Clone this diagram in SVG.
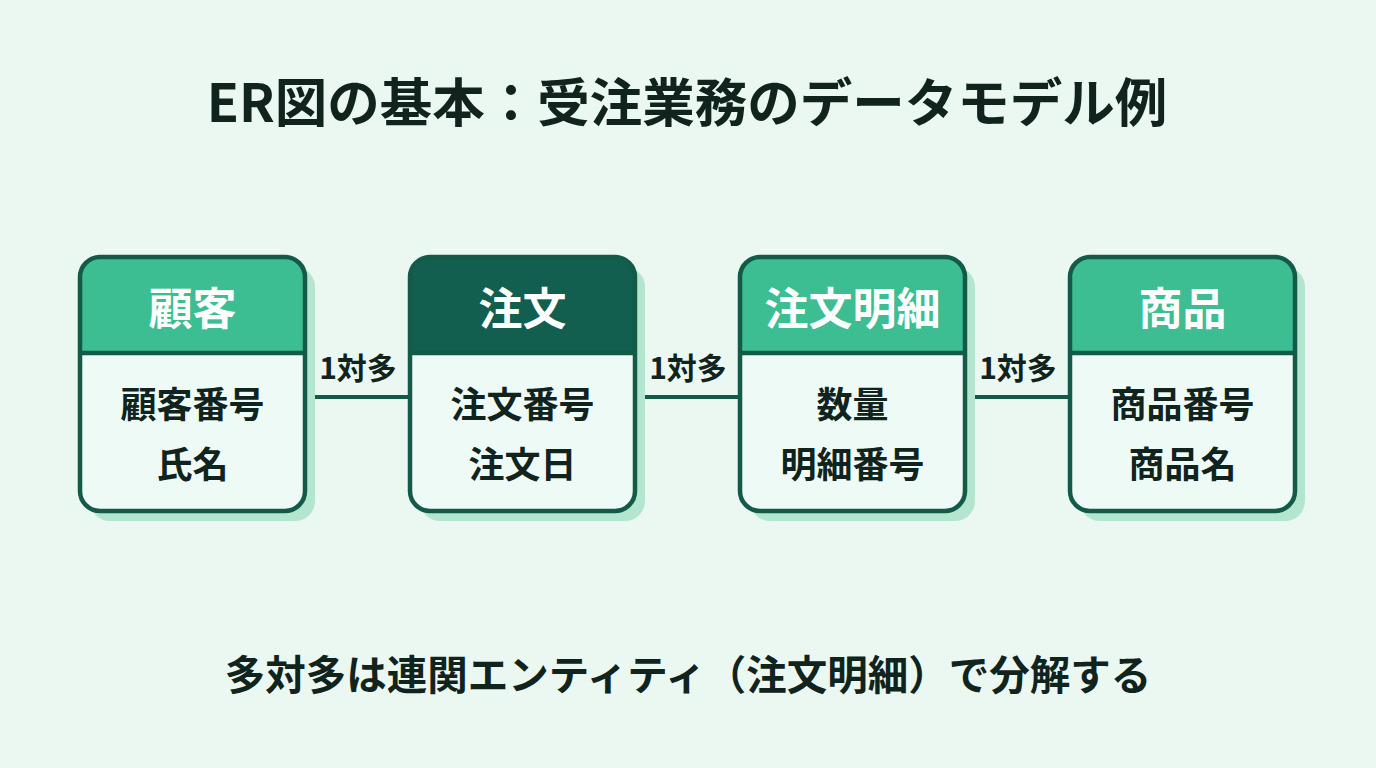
<svg xmlns="http://www.w3.org/2000/svg" width="1376" height="768" viewBox="0 0 1376 768">
  <defs>
    <style>
      text { font-family: "Noto Sans CJK JP", "Noto Sans", sans-serif; font-weight: bold; text-anchor: middle; }
      .title { font-size: 52.5px; fill: #10231c; }
      .foot { font-size: 40.5px; fill: #10231c; }
      .head { font-size: 44px; fill: #ffffff; }
      .attr { font-size: 36px; fill: #10231c; }
      .lbl { font-size: 30px; fill: #10231c; }
      .shadow { fill: #b4e6cf; }
      .body { fill: #eefaf5; }
      .frame { fill: none; stroke: #145a48; stroke-width: 4.5; }
      .hlight { fill: #3dbd92; }
      .hdark { fill: #125e4f; }
      .div { stroke: #145a48; stroke-width: 4.5; }
      .conn { stroke: #145a48; stroke-width: 4; fill: none; }
    </style>
  </defs>
  <rect x="0" y="0" width="1376" height="768" fill="#ebf7f1"/>
  <text class="title" x="687" y="122">ER図の基本：受注業務のデータモデル例</text>

  <g id="connectors">
    <line class="conn" x1="305" y1="397" x2="410" y2="397"/>
    <line class="conn" x1="635" y1="397" x2="740" y2="397"/>
    <line class="conn" x1="965" y1="397" x2="1070" y2="397"/>
    <text class="lbl" x="358" y="379">1対多</text>
    <text class="lbl" x="688" y="379">1対多</text>
    <text class="lbl" x="1018" y="379">1対多</text>
  </g>

  <g id="customer">
    <rect class="shadow" x="90" y="267" width="225" height="254" rx="20"/>
    <rect class="body" x="80" y="257" width="225" height="254" rx="20"/>
    <path class="hlight" d="M80,353 V277 A20,20 0 0 1 100,257 H285 A20,20 0 0 1 305,277 V353 Z"/>
    <line class="div" x1="80" y1="353" x2="305" y2="353"/>
    <rect class="frame" x="80" y="257" width="225" height="254" rx="20"/>
    <text class="head" x="192.5" y="325">顧客</text>
    <text class="attr" x="192.5" y="418">顧客番号</text>
    <text class="attr" x="192.5" y="478">氏名</text>
  </g>

  <g id="order">
    <rect class="shadow" x="420" y="267" width="225" height="254" rx="20"/>
    <rect class="body" x="410" y="257" width="225" height="254" rx="20"/>
    <path class="hdark" d="M410,353 V277 A20,20 0 0 1 430,257 H615 A20,20 0 0 1 635,277 V353 Z"/>
    <line class="div" x1="410" y1="353" x2="635" y2="353"/>
    <rect class="frame" x="410" y="257" width="225" height="254" rx="20"/>
    <text class="head" x="522.5" y="325">注文</text>
    <text class="attr" x="522.5" y="418">注文番号</text>
    <text class="attr" x="522.5" y="478">注文日</text>
  </g>

  <g id="orderdetail">
    <rect class="shadow" x="750" y="267" width="225" height="254" rx="20"/>
    <rect class="body" x="740" y="257" width="225" height="254" rx="20"/>
    <path class="hlight" d="M740,353 V277 A20,20 0 0 1 760,257 H945 A20,20 0 0 1 965,277 V353 Z"/>
    <line class="div" x1="740" y1="353" x2="965" y2="353"/>
    <rect class="frame" x="740" y="257" width="225" height="254" rx="20"/>
    <text class="head" x="852.5" y="325">注文明細</text>
    <text class="attr" x="852.5" y="418">数量</text>
    <text class="attr" x="852.5" y="478">明細番号</text>
  </g>

  <g id="product">
    <rect class="shadow" x="1080" y="267" width="225" height="254" rx="20"/>
    <rect class="body" x="1070" y="257" width="225" height="254" rx="20"/>
    <path class="hlight" d="M1070,353 V277 A20,20 0 0 1 1090,257 H1275 A20,20 0 0 1 1295,277 V353 Z"/>
    <line class="div" x1="1070" y1="353" x2="1295" y2="353"/>
    <rect class="frame" x="1070" y="257" width="225" height="254" rx="20"/>
    <text class="head" x="1182.5" y="325">商品</text>
    <text class="attr" x="1182.5" y="418">商品番号</text>
    <text class="attr" x="1182.5" y="478">商品名</text>
  </g>

  <text class="foot" x="688" y="690">多対多は連関エンティティ（注文明細）で分解する</text>
</svg>
